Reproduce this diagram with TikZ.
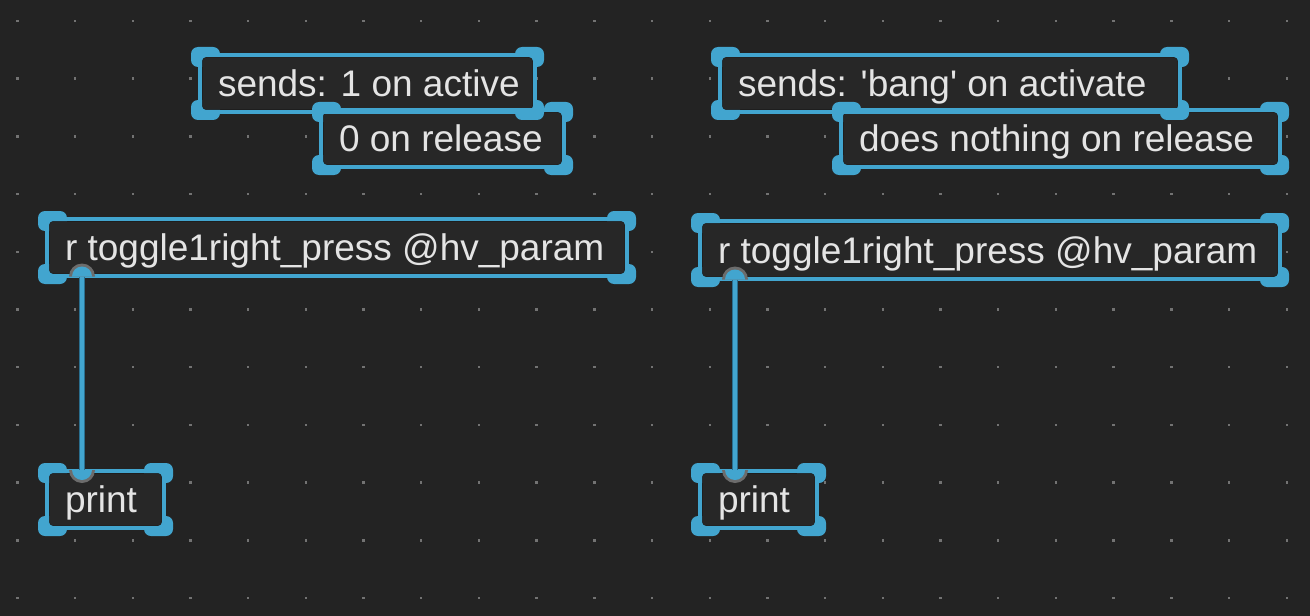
\documentclass[tikz,border=0pt]{standalone}
\usepackage{fontspec}
\newfontfamily\pdfont{Liberation Sans}[Ligatures=TeXOff]
\definecolor{bgcol}{HTML}{232323}
\definecolor{dotcol}{HTML}{737373}
\definecolor{selblue}{HTML}{42A5CF}
\definecolor{boxfill}{HTML}{272727}
\definecolor{boxedge}{HTML}{1A1A1A}
\definecolor{txtcol}{HTML}{E4E4E4}
\definecolor{ringgray}{HTML}{6C6C6C}
\definecolor{cabledark}{HTML}{2A6E8E}
\tikzset{
  pdrect/.style={draw=boxedge, line width=1bp, fill=boxfill, rounded corners=4bp,
    inner xsep=16bp, inner ysep=0pt, outer sep=0pt, text height=26bp, text depth=0pt,
    text=txtcol, font=\pdfont\fontsize{37bp}{44bp}\selectfont, anchor=north west},
  handle/.style={fill=selblue, rounded corners=7bp},
  outline/.style={draw=selblue, line width=4bp, sharp corners},
  cablebase/.style={draw=cabledark, line width=6.5bp},
  cabletop/.style={draw=selblue, line width=4.5bp},
}
\newcommand\pdbox[6]{%
  \node[pdrect, minimum width={#4bp-#2bp}, minimum height={#5bp-#3bp}] (#1) at (#2,#3)
    {\makebox[\dimexpr#4bp-#2bp-32bp\relax][l]{#6}};}
\newcommand\pdsel[1]{%
  \begin{scope}[even odd rule, rounded corners=4bp]
    \clip (-20,-20) rectangle (1330,636)
      (#1.north west) rectangle (#1.south east);
    \draw[outline] ([shift={(-2bp,2bp)}]#1.north west) rectangle ([shift={(2bp,-2bp)}]#1.south east);
    \fill[handle] ([shift={(-11bp,10bp)}]#1.north west) rectangle ([shift={(18bp,-10bp)}]#1.north west);
    \fill[handle] ([shift={(-18bp,10bp)}]#1.north east) rectangle ([shift={(11bp,-10bp)}]#1.north east);
    \fill[handle] ([shift={(-11bp,10bp)}]#1.south west) rectangle ([shift={(18bp,-10bp)}]#1.south west);
    \fill[handle] ([shift={(-18bp,10bp)}]#1.south east) rectangle ([shift={(11bp,-10bp)}]#1.south east);
  \end{scope}}
\begin{document}
\begin{tikzpicture}[x=1bp,y=-1bp]
\useasboundingbox (0,0) rectangle (1310,616);
\fill[bgcol] (0,0) rectangle (1310,616);
% grid dots
\foreach \i in {0,...,22}{
  \foreach \j in {0,...,10}{
    \fill[dotcol] ({17.3+57.7*\i-1.2},{21+57.7*\j-1.2}) rectangle ++(2.4,2.4);
  }}
% boxes
\pdbox{A}{202}{57}{533}{110}{sends: 1 on active}
\pdbox{B}{323}{112}{562}{165}{0 on release}
\pdbox{C}{49}{221}{625}{274}{r toggle1right\_press @hv\_param}
\pdbox{D}{49}{473}{162}{526}{print}
\pdbox{E}{722}{57}{1178}{110}{sends: 'bang' on activate}
\pdbox{F}{843}{112}{1278}{165}{does nothing on release}
\pdbox{G}{702}{223}{1278}{277}{r toggle1right\_press @hv\_param}
\pdbox{H}{702}{473}{815}{526}{print}
% selection decorations
\pdsel{A}\pdsel{B}\pdsel{C}\pdsel{D}\pdsel{E}\pdsel{F}\pdsel{G}\pdsel{H}
% outlets and inlets
\coordinate (Cout) at ([xshift=33bp,yshift=-2.5bp]C.south west);
\coordinate (Din) at ([xshift=33bp,yshift=3bp]D.north west);
\coordinate (Gout) at ([xshift=33bp,yshift=-2.5bp]G.south west);
\coordinate (Hin) at ([xshift=33bp,yshift=3bp]H.north west);
\foreach \p in {Cout,Gout}{
  \fill[ringgray] ([xshift=-13bp]\p) arc[start angle=180,end angle=0,radius=13bp] -- cycle;
  \fill[selblue] ([xshift=-10bp]\p) arc[start angle=180,end angle=0,radius=10bp] -- cycle;
}
\foreach \p in {Din,Hin}{
  \fill[ringgray] ([xshift=-13bp]\p) arc[start angle=180,end angle=360,radius=13bp] -- cycle;
  \fill[selblue] ([xshift=-10bp]\p) arc[start angle=180,end angle=360,radius=10bp] -- cycle;
}
% cables
\draw[cablebase] (Cout) -- (Din);
\draw[cabletop] (Cout) -- (Din);
\draw[cablebase] (Gout) -- (Hin);
\draw[cabletop] (Gout) -- (Hin);
\end{tikzpicture}
\end{document}
